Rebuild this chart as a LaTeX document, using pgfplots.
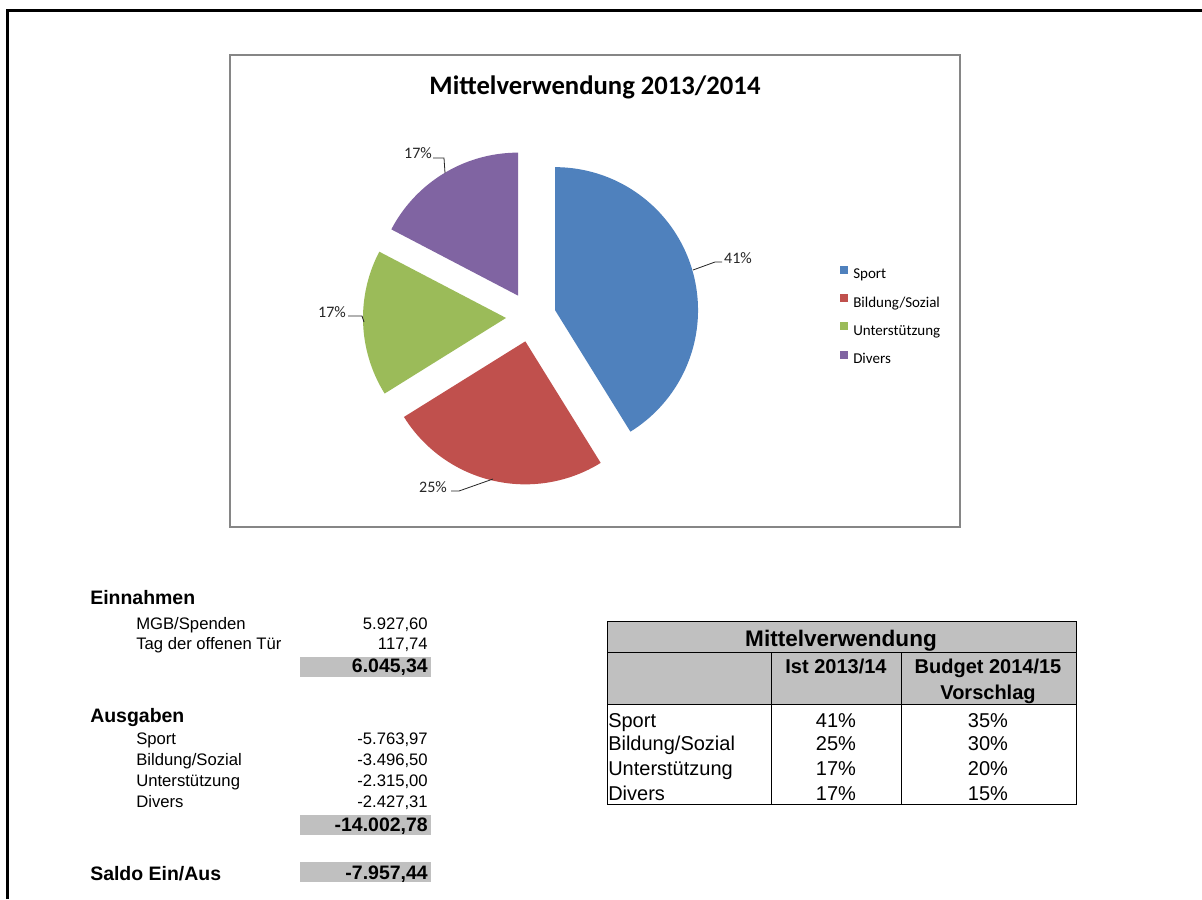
\documentclass[border=0pt]{standalone}
\usepackage{fontspec}
\setmainfont{Liberation Sans}
\newfontfamily\carlito{Carlito}
\usepackage{pgfplots}
\pgfplotsset{compat=1.18}
\usepgfplotslibrary{polar}
\definecolor{sportc}{HTML}{4F81BD}
\definecolor{bildc}{HTML}{C0504D}
\definecolor{untc}{HTML}{9BBB59}
\definecolor{divc}{HTML}{8064A2}
\definecolor{frameg}{HTML}{868686}
\definecolor{cellg}{HTML}{C0C0C0}
\definecolor{labc}{HTML}{262626}
\newcommand{\fbody}{\fontsize{12.5}{14}\selectfont}
\newcommand{\fhead}{\bfseries\fontsize{14.6}{16}\selectfont}
\newcommand{\ftab}{\fontsize{15}{17}\selectfont}
\begin{document}
\begin{tikzpicture}
\useasboundingbox (0pt,0pt) rectangle (901.5pt,-674.25pt);
\begin{scope}[x=0.75pt,y=-0.75pt, every node/.append style={inner xsep=0pt}]
\fill[white] (0,0) rectangle (1202,899);
\draw[line width=2.25pt] (7,899) -- (7,11) -- (1202,11);
\draw[frameg, line width=0.9pt] (230,55) rectangle (960,527);
\node[font=\carlito\bfseries\fontsize{20}{22}\selectfont, anchor=base] at (595,94.5) {Mittelverwendung 2013/2014};
% left block
\node[font=\fhead, anchor=base west] at (90,604) {Einnahmen};
\node[font=\fbody, anchor=base west] at (136,629) {MGB/Spenden};
\node[font=\fbody, anchor=base east] at (428,629) {5.927,60};
\node[font=\fbody, anchor=base west] at (136,649) {Tag der offenen Tür};
\node[font=\fbody, anchor=base east] at (428,649) {117,74};
\fill[cellg] (300,657) rectangle (431,677);
\node[font=\fhead, anchor=base east] at (428,672) {6.045,34};
\node[font=\fhead, anchor=base west] at (90,722) {Ausgaben};
\node[font=\fbody, anchor=base west] at (136,744) {Sport};
\node[font=\fbody, anchor=base east] at (428,744) {-5.763,97};
\node[font=\fbody, anchor=base west] at (136,765) {Bildung/Sozial};
\node[font=\fbody, anchor=base east] at (428,765) {-3.496,50};
\node[font=\fbody, anchor=base west] at (136,786) {Unterstützung};
\node[font=\fbody, anchor=base east] at (428,786) {-2.315,00};
\node[font=\fbody, anchor=base west] at (136,807) {Divers};
\node[font=\fbody, anchor=base east] at (428,807) {-2.427,31};
\fill[cellg] (300,815) rectangle (431,835);
\node[font=\fhead, anchor=base east] at (428,831) {-14.002,78};
\node[font=\fhead, anchor=base west] at (90,880) {Saldo Ein/Aus};
\fill[cellg] (300,862) rectangle (431,882);
\node[font=\fhead, anchor=base east] at (428,879) {-7.957,44};
% right table
\fill[cellg] (607,621) rectangle (1076,704);
\draw[line width=0.75pt] (607,621) rectangle (1076,804);
\draw[line width=0.75pt] (607,652) -- (1076,652);
\draw[line width=0.75pt] (607,704) -- (1076,704);
\draw[line width=0.75pt] (771,652) -- (771,804);
\draw[line width=0.75pt] (901,652) -- (901,804);
\node[font=\bfseries\fontsize{16.9}{18}\selectfont, anchor=base] at (841,646) {Mittelverwendung};
\node[font=\bfseries\ftab, anchor=base] at (836,673) {Ist 2013/14};
\node[font=\bfseries\ftab, anchor=base] at (988,673) {Budget 2014/15};
\node[font=\bfseries\ftab, anchor=base] at (988,699) {Vorschlag};
\node[font=\ftab, anchor=base west] at (608,727) {Sport};
\node[font=\ftab, anchor=base] at (836,727) {41\%};
\node[font=\ftab, anchor=base] at (988,727) {35\%};
\node[font=\ftab, anchor=base west] at (608,750) {Bildung/Sozial};
\node[font=\ftab, anchor=base] at (836,750) {25\%};
\node[font=\ftab, anchor=base] at (988,750) {30\%};
\node[font=\ftab, anchor=base west] at (608,775) {Unterstützung};
\node[font=\ftab, anchor=base] at (836,775) {17\%};
\node[font=\ftab, anchor=base] at (988,775) {20\%};
\node[font=\ftab, anchor=base west] at (608,800) {Divers};
\node[font=\ftab, anchor=base] at (836,800) {17\%};
\node[font=\ftab, anchor=base] at (988,800) {15\%};
\end{scope}
% pie: centre (531,317) px, radius 143 px
\begin{polaraxis}[
  at={(398.25pt,-237.75pt)}, anchor=center,
  scale only axis, width=214.5pt, height=214.5pt,
  hide axis, clip=false,
  ymin=0, ymax=1,
  legend cell align=left,
  legend image code/.code={\fill[#1] (0pt,0.6pt) rectangle (6pt,6.6pt);},
  legend style={draw=none, fill=none, inner sep=0pt,
    at={(axis description cs:1.5804,0.6795)}, anchor=north west,
    font=\carlito\fontsize{11.25}{13}\selectfont,
    row sep=9.6pt, column sep=3.75pt,
    nodes={inner sep=0pt, text height=8pt, text depth=2pt}},
]
% Sport 5763.97, Bildung/Sozial 3496.50, Unterstuetzung 2315.00, Divers 2427.31 (sum 14002.78)
\addplot[forget plot, draw=none, fill=sportc, domain=-58.19:90, samples=80, xshift=18.03pt, yshift=5.14pt] {1} -- (axis cs:0,0) -- cycle;
\addplot[forget plot, draw=none, fill=bildc, domain=-148.08:-58.19, samples=50, xshift=-4.26pt, yshift=-18.26pt] {1} -- (axis cs:0,0) -- cycle;
\addplot[forget plot, draw=none, fill=untc, domain=-207.60:-148.08, samples=40, xshift=-18.74pt, yshift=-0.71pt] {1} -- (axis cs:0,0) -- cycle;
\addplot[forget plot, draw=none, fill=divc, domain=-270:-207.60, samples=40, xshift=-9.71pt, yshift=16.04pt] {1} -- (axis cs:0,0) -- cycle;
\addlegendimage{fill=sportc, draw=none}
\addlegendentry{Sport}
\addlegendimage{fill=bildc, draw=none}
\addlegendentry{Bildung/Sozial}
\addlegendimage{fill=untc, draw=none}
\addlegendentry{Unterstützung}
\addlegendimage{fill=divc, draw=none}
\addlegendentry{Divers}
\end{polaraxis}
\begin{scope}[x=0.75pt,y=-0.75pt]
\draw[labc, line width=0.6pt] (433,158) -- (444,158) -- (445,173);
\draw[labc, line width=0.6pt] (348,316) -- (362,316) -- (364,322);
\draw[labc, line width=0.6pt] (451,491) -- (459,491) -- (493,479);
\draw[labc, line width=0.6pt] (722,262) -- (715,262) -- (693,270);
\node[font=\carlito\fontsize{12}{14}\selectfont, text=labc] at (418,153) {17\%};
\node[font=\carlito\fontsize{12}{14}\selectfont, text=labc] at (332,312) {17\%};
\node[font=\carlito\fontsize{12}{14}\selectfont, text=labc] at (433,487) {25\%};
\node[font=\carlito\fontsize{12}{14}\selectfont, text=labc] at (738,258) {41\%};
\end{scope}
\end{tikzpicture}
\end{document}
